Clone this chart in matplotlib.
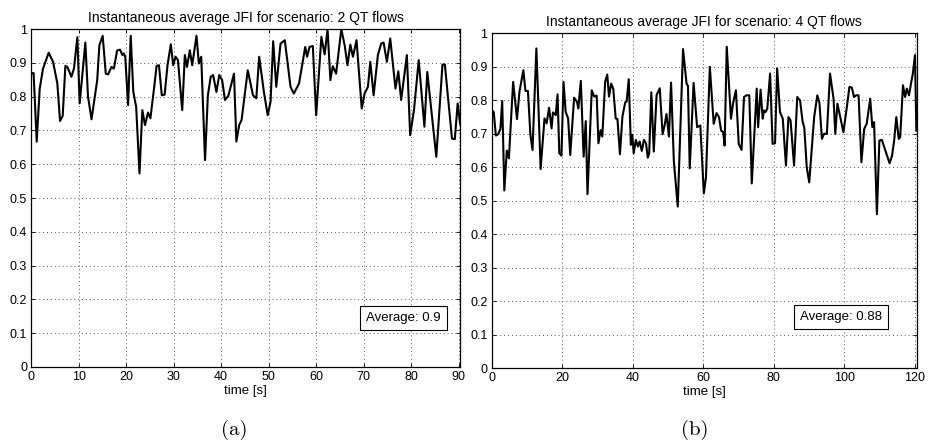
import matplotlib
matplotlib.use('Agg')
import matplotlib.pyplot as plt

# 2 QT flows scenario (time [s], instantaneous average JFI)
t_2qt = [0, 0.5, 1.16, 1.79, 2.49, 3.68, 4.6, 5.5, 6.07, 6.63, 7.19, 7.6, 8.46, 9.0, 9.72,
         10.2, 11.4, 11.96, 12.7, 13.4, 13.9, 14.35, 15.05, 15.7, 16.2, 16.9, 17.4, 18.1, 18.7,
         19.2, 19.5, 19.8, 20.4, 20.95, 21.5, 22.1, 22.8, 23.4, 23.96, 24.6, 25.1, 25.9, 26.4,
         26.9, 27.5, 28.1, 28.7, 29.4, 29.9, 30.4, 30.9, 31.8, 32.35, 32.8, 33.4, 33.9, 34.8,
         35.3, 35.8, 36.6, 37.2, 37.8, 38.3, 39.0, 39.6, 40.2, 40.8, 41.5, 42.7, 43.2, 43.8,
         44.3, 45.6, 46.7, 47.4, 48.0, 49.0, 49.8, 50.4, 50.95, 51.6, 52.5, 53.4, 54.6, 55.3,
         56.4, 57.4, 57.7, 58.1, 58.6, 59.3, 60.0, 61.1, 61.8, 62.4, 63.0, 63.5, 64.2, 65.3,
         66.0, 66.6, 67.2, 67.75, 68.5, 69.6, 70.2, 70.9, 71.4, 72.1, 73.0, 73.7, 74.2, 74.9,
         75.6, 76.7, 77.3, 77.9, 79.1, 79.8, 80.6, 81.6, 82.8, 83.4, 85.3, 86.6, 87.1, 88.6,
         89.2, 89.8, 90.3]
jfi_2qt = [0.868, 0.87, 0.667, 0.824, 0.883, 0.93, 0.903, 0.839, 0.728, 0.743, 0.891, 0.888,
           0.859, 0.883, 0.976, 0.78, 0.96, 0.80, 0.733, 0.80, 0.849, 0.952, 0.98, 0.868, 0.866,
           0.888, 0.883, 0.937, 0.939, 0.923, 0.928, 0.918, 0.775, 0.98, 0.814, 0.77, 0.573,
           0.76, 0.716, 0.753, 0.736, 0.829, 0.891, 0.893, 0.804, 0.806, 0.893, 0.955, 0.893,
           0.918, 0.908, 0.76, 0.923, 0.888, 0.937, 0.893, 0.98, 0.898, 0.918, 0.612, 0.804,
           0.859, 0.864, 0.814, 0.864, 0.849, 0.79, 0.802, 0.868, 0.667, 0.716, 0.731, 0.878,
           0.804, 0.795, 0.918, 0.814, 0.745, 0.785, 0.964, 0.829, 0.957, 0.967, 0.829, 0.809,
           0.839, 0.923, 0.947, 0.918, 0.947, 0.95, 0.745, 0.977, 0.925, 1.0, 0.849, 0.89,
           0.868, 1.0, 0.952, 0.893, 0.954, 0.918, 0.967, 0.765, 0.809, 0.829, 0.903, 0.804,
           0.923, 0.957, 0.96, 0.903, 0.972, 0.824, 0.875, 0.79, 0.923, 0.686, 0.76, 0.908,
           0.711, 0.873, 0.622, 0.895, 0.895, 0.676, 0.674, 0.78, 0.72]

# 4 QT flows scenario
t_4qt = [0, 0.6, 1.2, 1.9, 2.5, 3.0, 3.6, 4.3, 4.9, 6.1, 7.2, 7.9, 9.0, 9.6, 10.3, 11.0, 11.6,
         12.7, 13.9, 15.0, 15.6, 16.3, 17.0, 17.4, 18.2, 18.7, 19.2, 19.8, 20.4, 21.0, 21.7,
         22.3, 23.4, 24.2, 24.6, 25.3, 26.1, 26.7, 27.2, 28.4, 29.1, 29.8, 30.3, 30.9, 31.4,
         32.2, 32.8, 33.3, 33.9, 34.5, 35.2, 35.7, 36.4, 37.1, 37.9, 38.3, 38.9, 39.5, 39.9,
         40.3, 40.9, 41.5, 42.0, 42.6, 43.2, 43.8, 44.3, 44.7, 45.3, 46.0, 46.8, 47.7, 48.5,
         49.1, 49.6, 50.3, 50.9, 51.7, 52.8, 54.3, 55.3, 55.7, 56.2, 57.3, 58.3, 59.2, 60.2,
         60.8, 61.9, 63.0, 63.8, 64.5, 65.1, 65.7, 66.1, 66.7, 67.9, 68.5, 69.3, 70.1, 70.9,
         71.6, 72.3, 73.1, 73.8, 75.2, 75.6, 76.3, 76.9, 77.3, 77.7, 78.2, 79.0, 79.7, 80.4,
         81.0, 81.8, 82.6, 83.5, 84.2, 84.8, 85.8, 86.7, 87.5, 88.2, 88.7, 89.4, 90.1, 91.5,
         92.4, 93.0, 93.7, 94.3, 95.1, 96.0, 97.0, 97.5, 98.1, 98.9, 99.8, 100.8, 101.5, 102.2,
         102.8, 103.4, 104.1, 104.9, 105.7, 106.4, 107.4, 108.0, 108.5, 109.3, 110.0, 110.7,
         112.9, 113.6, 114.2, 114.8, 115.5, 115.9, 116.7, 117.3, 117.8, 118.4, 119.0, 119.5,
         120.1, 120.5]
jfi_4qt = [0.771, 0.765, 0.695, 0.699, 0.716, 0.798, 0.531, 0.65, 0.627, 0.855, 0.744, 0.826,
           0.89, 0.828, 0.828, 0.697, 0.652, 0.955, 0.595, 0.746, 0.731, 0.778, 0.716, 0.764,
           0.756, 0.818, 0.642, 0.635, 0.855, 0.766, 0.746, 0.637, 0.808, 0.796, 0.776, 0.858,
           0.632, 0.738, 0.52, 0.83, 0.811, 0.814, 0.672, 0.711, 0.692, 0.855, 0.877, 0.811,
           0.85, 0.835, 0.746, 0.744, 0.639, 0.751, 0.794, 0.796, 0.863, 0.667, 0.697, 0.642,
           0.682, 0.662, 0.677, 0.649, 0.682, 0.672, 0.629, 0.642, 0.824, 0.647, 0.816, 0.836,
           0.699, 0.727, 0.759, 0.692, 0.853, 0.617, 0.483, 0.953, 0.85, 0.843, 0.597, 0.852,
           0.72, 0.725, 0.522, 0.57, 0.9, 0.73, 0.762, 0.75, 0.71, 0.705, 0.665, 0.96, 0.745,
           0.792, 0.83, 0.67, 0.652, 0.81, 0.815, 0.815, 0.552, 0.835, 0.72, 0.832, 0.745, 0.77,
           0.765, 0.775, 0.88, 0.67, 0.672, 0.895, 0.765, 0.745, 0.605, 0.75, 0.74, 0.605, 0.81,
           0.8, 0.738, 0.718, 0.6, 0.555, 0.75, 0.815, 0.792, 0.685, 0.7, 0.7, 0.88, 0.805, 0.7,
           0.79, 0.75, 0.705, 0.782, 0.84, 0.838, 0.81, 0.815, 0.815, 0.615, 0.715, 0.73, 0.805,
           0.72, 0.735, 0.46, 0.68, 0.682, 0.612, 0.635, 0.68, 0.75, 0.685, 0.69, 0.845, 0.81,
           0.835, 0.815, 0.852, 0.88, 0.935, 0.71]

titles = ['Instantaneous average JFI for scenario: 2 QT flows',
          'Instantaneous average JFI for scenario: 4 QT flows']
averages = ['Average: 0.9', 'Average: 0.88']
panel_labels = ['(a)', '(b)']

plt.rcParams['font.family'] = ['Liberation Sans', 'DejaVu Sans']

fig = plt.figure(figsize=(9.29, 4.47), dpi=100)
ax1 = fig.add_axes([0.0336, 0.179, 0.4616, 0.756])
ax2 = fig.add_axes([0.5292, 0.176, 0.4576, 0.7494])

# axes, data, x limit, x ticks, avg box anchor (axes fraction)
panels = [
    (ax1, t_2qt, jfi_2qt, 90.3, range(0, 91, 10), (0.955, 0.146)),
    (ax2, t_4qt, jfi_4qt, 120.6, range(0, 121, 20), (0.918, 0.152)),
]

for i, (ax, t, y, xmax, xt, pos) in enumerate(panels):
    ax.plot(t, y, color='black', lw=1.5)
    ax.set_xlim(0, xmax)
    ax.set_ylim(0, 1)
    ax.set_xticks(list(xt))
    ax.set_yticks([k / 10 for k in range(11)])
    ax.set_yticklabels(['%g' % (k / 10) for k in range(11)])
    ax.grid(True, ls=(0, (1, 3)), color='#555555', lw=0.7)
    ax.tick_params(direction='in', top=True, right=True, length=3, width=0.6,
                   labelsize=9, pad=3)
    for sp in ax.spines.values():
        sp.set_linewidth(0.9)
    ax.set_title(titles[i], fontsize=10, pad=5)
    ax.set_xlabel('time [s]', fontsize=9.5, labelpad=1)
    ax.text(pos[0], pos[1], averages[i], transform=ax.transAxes, ha='right', va='center',
            fontsize=9.5,
            bbox=dict(boxstyle='square,pad=0.45', fc='white', ec='black', lw=0.8))

fig.text(234 / 929, 1 - 430 / 447, panel_labels[0], family='cmr10', fontsize=15,
         ha='center', va='center')
fig.text(695 / 929, 1 - 430 / 447, panel_labels[1], family='cmr10', fontsize=15,
         ha='center', va='center')

fig.savefig('out.png', dpi=100)
